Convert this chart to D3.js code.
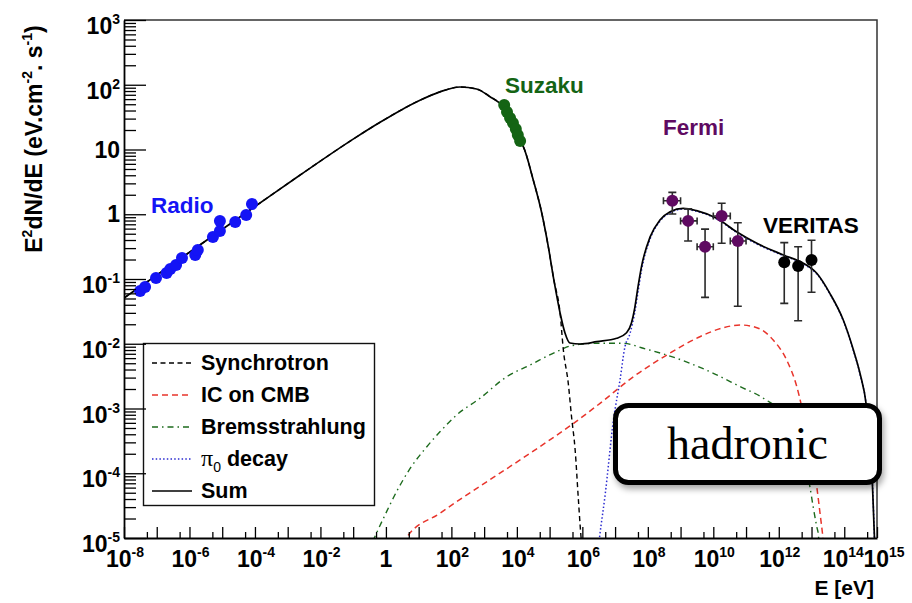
<!DOCTYPE html>
<html>
<head>
<meta charset="utf-8">
<script src="https://cdn.jsdelivr.net/npm/d3@7"></script>
<style>
  html, body { margin: 0; padding: 0; background: #fff; }
  svg { display: block; font-family: "Liberation Sans", Arial, Helvetica, sans-serif; }
</style>
</head>
<body>
<svg id="chart" width="912" height="603"></svg>
<script>
// ---- axis ticks (decade exponents) ----
const xTickExps  = d3.range(-8, 16);
const xLabelExps = [-8, -6, -4, -2, 0, 2, 4, 6, 8, 10, 12, 14, 15];
const yTickExps  = d3.range(-5, 4);
const yLabelExps = [-5, -4, -3, -2, -1, 0, 1, 2, 3];

// ---- measurements: [E (eV), E^2 dN/dE] ----
const radio = [
  [3.1e-8, 0.065], [4.4e-8, 0.075], [9.5e-8, 0.104], [2.0e-7, 0.124], [2.6e-7, 0.143],
  [3.9e-7, 0.164], [5.9e-7, 0.211], [1.5e-6, 0.235], [1.8e-6, 0.281], [5.2e-6, 0.446],
  [8.5e-6, 0.551], [8.5e-6, 0.787], [2.5e-5, 0.759], [5.4e-5, 0.973], [8.1e-5, 1.44]
];
const suzaku = [
  [4.1e3, 48.6], [5.0e3, 37.9], [6.2e3, 30.6], [7.6e3, 25.6], [9.3e3, 20.7], [1.07e4, 16.7], [1.26e4, 13.5]
];
// [E, flux, fluxLow, fluxHigh, Elow, Ehigh]
const fermi = [
  [5.6e8, 1.62, 1.01, 2.18, 3.0e8, 1.0e9],
  [1.7e9, 0.79, 0.386, 1.21, 1.0e9, 3.2e9],
  [5.6e9, 0.315, 0.052, 0.59, 3.2e9, 1.0e10],
  [1.8e10, 0.94, 0.356, 1.48, 1.0e10, 3.3e10],
  [5.6e10, 0.386, 0.038, 0.74, 3.3e10, 1.0e11]
];
// [E, flux, fluxLow, fluxHigh]
const veritas = [
  [1.47e12, 0.181, 0.042, 0.364],
  [3.9e12, 0.159, 0.0227, 0.315],
  [1.0e13, 0.196, 0.0624, 0.396]
];

// ---- model components: [log10 E, log10 E^2 dN/dE] ----
const synchrotron = [
  [-8, -1.293], [-6, -0.587], [-4, 0.119], [-2.62, 0.606], [-1.0, 1.16], [-0.18, 1.42],
  [0.43, 1.60], [1.04, 1.76], [1.65, 1.89], [2.26, 1.965], [2.77, 1.935], [3.18, 1.815],
  [3.58, 1.66], [3.80, 1.48], [4.10, 1.13], [4.20, 1.04], [4.50, 0.53], [4.76, 0.02],
  [4.96, -0.50], [5.13, -1.015], [5.32, -1.525], [5.42, -2.097], [5.57, -2.611],
  [5.67, -3.127], [5.78, -3.641], [5.88, -4.413], [5.95, -4.923], [5.98, -5.1]
];
const icCMB = [
  [0.55, -5.1], [0.635, -4.989], [1.65, -4.618], [4.40, -3.692], [5.62, -3.27], [6.54, -2.92],
  [7.56, -2.509], [8.58, -2.174], [9.59, -1.891], [10.31, -1.752], [10.82, -1.71],
  [11.33, -1.752], [11.83, -1.942], [12.24, -2.251], [12.55, -2.663], [12.70, -2.972],
  [12.93, -3.6], [13.16, -4.208], [13.26, -4.618], [13.34, -4.954], [13.37, -5.1]
];
const bremsstrahlung = [
  [-0.40, -5.05], [-0.08, -4.70], [0.33, -4.28], [0.735, -3.93], [1.25, -3.59], [1.65, -3.36],
  [2.16, -3.10], [2.87, -2.843], [3.69, -2.509], [4.40, -2.328], [5.32, -2.097],
  [5.62, -2.035], [6.44, -1.993], [7.25, -1.993], [7.86, -2.07], [8.58, -2.174], [9.29, -2.302],
  [10.0, -2.456], [10.82, -2.663], [11.53, -2.842], [12.3, -3.2], [12.7, -3.75], [12.95, -4.208],
  [13.05, -4.517], [13.16, -4.826], [13.21, -4.954], [13.23, -5.1]
];
const pionDecay = [
  [6.5, -5.1], [6.54, -4.93], [6.69, -4.36], [6.95, -3.18], [7.15, -2.56], [7.30, -2.05],
  [7.45, -1.85], [7.60, -1.52], [7.70, -1.20], [7.81, -0.86], [8.07, -0.38], [8.37, -0.11],
  [8.68, 0.025], [9.08, 0.08], [9.49, 0.045], [10.10, -0.072], [10.71, -0.28], [11.33, -0.46],
  [12.14, -0.64], [12.75, -0.767], [13.16, -0.922], [13.56, -1.23], [13.97, -1.643],
  [14.28, -2.107], [14.48, -2.466], [14.68, -2.98], [14.84, -3.91], [14.93, -5.1]
];
const sumModel = [
  [-8, -1.293], [-6, -0.587], [-4, 0.119], [-2.62, 0.606], [-1.0, 1.16], [-0.18, 1.42],
  [0.43, 1.60], [1.04, 1.76], [1.65, 1.89], [2.26, 1.965], [2.77, 1.935], [3.18, 1.815],
  [3.58, 1.66], [3.80, 1.48], [4.10, 1.13], [4.20, 1.04], [4.50, 0.53], [4.76, 0.02],
  [4.96, -0.50], [5.13, -1.015], [5.32, -1.525], [5.47, -1.834], [5.62, -1.988], [5.93, -2.004],
  [6.44, -1.968], [7.05, -1.916], [7.35, -1.83], [7.50, -1.68], [7.60, -1.45], [7.70, -1.12],
  [7.81, -0.80], [8.07, -0.35], [8.37, -0.09], [8.68, 0.04], [9.08, 0.092], [9.49, 0.055],
  [10.10, -0.063], [10.71, -0.27], [11.33, -0.449], [12.14, -0.629], [12.75, -0.757],
  [13.16, -0.912], [13.56, -1.221], [13.97, -1.633], [14.28, -2.097], [14.48, -2.456],
  [14.68, -2.972], [14.84, -3.9], [14.93, -5.1]
];

const legendLabels = ["Synchrotron", "IC on CMB", "Bremsstrahlung", "π0 decay", "Sum"];

// ---- drawing ----
const svg = d3.select("#chart");
const plot = { left: 124, right: 877, top: 20, bottom: 538 };

const x = d3.scaleLog().domain([1e-8, 1e15]).range([plot.left, plot.right]);
const y = d3.scaleLog().domain([1e-5, 1e3]).range([plot.bottom, plot.top]);

const defs = svg.append("defs");
defs.append("clipPath").attr("id", "plotClip")
  .append("rect")
  .attr("x", plot.left).attr("y", plot.top)
  .attr("width", plot.right - plot.left).attr("height", plot.bottom - plot.top);
const shadow = defs.append("filter").attr("id", "boxShadow")
  .attr("x", "-10%").attr("y", "-20%").attr("width", "130%").attr("height", "160%");
shadow.append("feDropShadow")
  .attr("dx", 2).attr("dy", 4).attr("stdDeviation", 3)
  .attr("flood-color", "#000").attr("flood-opacity", 0.35);

svg.append("rect").attr("width", 912).attr("height", 603).attr("fill", "#fff");

// frame (top and right)
svg.append("path")
  .attr("d", `M${plot.left},${plot.top}H${plot.right}V${plot.bottom}`)
  .attr("fill", "none").attr("stroke", "#333").attr("stroke-width", 1.5);

// model curves
const styles = {
  synch: { color: "#000000", dash: "5,3.5", width: 1.4 },
  ic:    { color: "#e8342b", dash: "6,4", width: 1.5 },
  brems: { color: "#1d6b1d", dash: "6,4,1.5,4", width: 1.4 },
  pion:  { color: "#2a2ad0", dash: "1.5,2.2", width: 1.5 },
  sum:   { color: "#000000", dash: null, width: 1.7 }
};
const series = [
  { data: bremsstrahlung, style: styles.brems },
  { data: icCMB, style: styles.ic },
  { data: pionDecay, style: styles.pion },
  { data: synchrotron, style: styles.synch },
  { data: sumModel, style: styles.sum }
];
const line = d3.line()
  .x(d => x(Math.pow(10, d[0])))
  .y(d => y(Math.pow(10, d[1])))
  .curve(d3.curveMonotoneX);

const curves = svg.append("g").attr("clip-path", "url(#plotClip)");
curves.selectAll("path").data(series).join("path")
  .attr("d", s => line(s.data))
  .attr("fill", "none")
  .attr("stroke", s => s.style.color)
  .attr("stroke-width", s => s.style.width)
  .attr("stroke-dasharray", s => s.style.dash);

// measured points
const pts = svg.append("g");
pts.selectAll("circle.radio").data(radio).join("circle").attr("class", "radio")
  .attr("cx", d => x(d[0])).attr("cy", d => y(d[1])).attr("r", 6).attr("fill", "#1414f5");
pts.selectAll("circle.suzaku").data(suzaku).join("circle").attr("class", "suzaku")
  .attr("cx", d => x(d[0])).attr("cy", d => y(d[1])).attr("r", 6).attr("fill", "#146414");

const errColor = "#2a2a2a";
const fermiG = pts.append("g").attr("stroke", errColor).attr("stroke-width", 1.6).attr("fill", "none");
fermi.forEach(d => {
  const cx = x(d[0]), cy = y(d[1]);
  const x0 = x(d[4]), x1 = x(d[5]), yl = y(d[2]), yh = y(d[3]);
  fermiG.append("path").attr("d",
    `M${x0},${cy}H${x1}M${x0},${cy - 3.5}V${cy + 3.5}M${x1},${cy - 3.5}V${cy + 3.5}` +
    `M${cx},${yh}V${yl}M${cx - 4},${yh}H${cx + 4}M${cx - 4},${yl}H${cx + 4}`);
});
pts.selectAll("circle.fermi").data(fermi).join("circle").attr("class", "fermi")
  .attr("cx", d => x(d[0])).attr("cy", d => y(d[1])).attr("r", 6).attr("fill", "#5f0a61");

const verG = pts.append("g").attr("stroke", errColor).attr("stroke-width", 1.6).attr("fill", "none");
veritas.forEach(d => {
  const cx = x(d[0]), yl = y(d[2]), yh = y(d[3]);
  verG.append("path").attr("d",
    `M${cx},${yh}V${yl}M${cx - 4},${yh}H${cx + 4}M${cx - 4},${yl}H${cx + 4}`);
});
pts.selectAll("circle.veritas").data(veritas).join("circle").attr("class", "veritas")
  .attr("cx", d => x(d[0])).attr("cy", d => y(d[1])).attr("r", 6).attr("fill", "#000");

// instrument labels
const tags = [
  { text: "Radio",   x: 151, y: 213, color: "#1414f5" },
  { text: "Suzaku",  x: 505, y: 93,  color: "#146414" },
  { text: "Fermi",   x: 663, y: 135, color: "#5f0a61" },
  { text: "VERITAS", x: 763, y: 233, color: "#000" }
];
svg.selectAll("text.tag").data(tags).join("text").attr("class", "tag")
  .attr("x", d => d.x).attr("y", d => d.y)
  .attr("fill", d => d.color)
  .attr("font-size", 22.5).attr("font-weight", "bold")
  .text(d => d.text);

// legend
const legend = svg.append("g");
legend.append("rect")
  .attr("x", 143.5).attr("y", 343.5).attr("width", 231).attr("height", 162)
  .attr("fill", "#fff").attr("stroke", "#111").attr("stroke-width", 1.4);
const legendStyles = [styles.synch, styles.ic, styles.brems, styles.pion, styles.sum];
legendLabels.forEach((lab, i) => {
  const base = 370 + i * 32;
  const st = legendStyles[i];
  legend.append("line")
    .attr("x1", 152).attr("x2", 192).attr("y1", base - 7).attr("y2", base - 7)
    .attr("stroke", st.color).attr("stroke-width", st.width)
    .attr("stroke-dasharray", st.dash);
  const t = legend.append("text").attr("x", 201).attr("y", base)
    .attr("font-size", 21.5).attr("font-weight", "bold").attr("fill", "#000");
  if (lab.startsWith("π")) {
    t.append("tspan").attr("font-family", "'Liberation Serif', serif")
      .attr("font-weight", "normal").attr("font-size", 24).text("π");
    t.append("tspan").attr("font-size", 14).attr("dy", 6).attr("font-weight", "normal").text("0");
    t.append("tspan").attr("dy", -6).text(lab.slice(2));
  } else {
    t.text(lab);
  }
});

// axes: decade ticks and minor ticks
const xAxisG = svg.append("g").attr("transform", `translate(0,${plot.bottom})`);
xAxisG.call(d3.axisBottom(x)
  .tickValues(xTickExps.map(e => Math.pow(10, e)))
  .tickSizeInner(-11).tickSizeOuter(0).tickFormat(""));
const xMinor = svg.append("g").attr("transform", `translate(0,${plot.bottom})`);
xMinor.call(d3.axisBottom(x)
  .tickValues(xTickExps.slice(1).map(e => 5 * Math.pow(10, e - 1)))
  .tickSizeInner(-6).tickSizeOuter(0).tickFormat(""));
xMinor.select(".domain").remove();

const yAxisG = svg.append("g").attr("transform", `translate(${plot.left},0)`);
yAxisG.call(d3.axisLeft(y)
  .tickValues(yTickExps.map(e => Math.pow(10, e)))
  .tickSizeInner(-22).tickSizeOuter(0).tickFormat(""));
const yMinorVals = [];
yTickExps.slice(0, -1).forEach(e => { for (let m = 2; m <= 9; m++) yMinorVals.push(m * Math.pow(10, e)); });
const yMinor = svg.append("g").attr("transform", `translate(${plot.left},0)`);
yMinor.call(d3.axisLeft(y).tickValues(yMinorVals)
  .tickSizeInner(-12).tickSizeOuter(0).tickFormat(""));
yMinor.select(".domain").remove();

svg.selectAll(".domain").attr("stroke", "#000").attr("stroke-width", 1.8);
svg.selectAll(".tick line").attr("stroke", "#000").attr("stroke-width", 1.3);

function powerLabel(sel, e) {
  if (e === 0) { sel.append("tspan").text("1"); return; }
  if (e === 1) { sel.append("tspan").text("10"); return; }
  sel.append("tspan").text("10");
  sel.append("tspan").attr("font-size", 14).attr("dy", -10).text(String(e));
}

// the last label is nudged right so it clears its neighbour
svg.append("g").selectAll("text").data(xLabelExps).join("text")
  .attr("x", e => x(Math.pow(10, e)) + (e === 15 ? 7 : e === 14 ? -1 : e === 0 ? 0 : 1))
  .attr("y", 567)
  .attr("text-anchor", "middle")
  .attr("font-size", 23).attr("font-weight", "bold")
  .each(function (e) { powerLabel(d3.select(this), e); });

svg.append("g").selectAll("text").data(yLabelExps).join("text")
  .attr("x", 120)
  .attr("y", e => y(Math.pow(10, e)) + (e === 0 || e === 1 ? 8 : 14))
  .attr("text-anchor", "end")
  .attr("font-size", 23).attr("font-weight", "bold")
  .each(function (e) { powerLabel(d3.select(this), e); });

// axis titles
svg.append("text")
  .attr("x", 874).attr("y", 595).attr("text-anchor", "end")
  .attr("font-size", 21).attr("font-weight", "bold").text("E [eV]");

const yTitle = svg.append("text")
  .attr("transform", "translate(42,139) rotate(-90)")
  .attr("text-anchor", "middle")
  .attr("font-size", 23).attr("font-weight", "bold");
yTitle.append("tspan").text("E");
yTitle.append("tspan").attr("font-size", 14).attr("dy", -10).text("2");
yTitle.append("tspan").attr("dy", 10).text("dN/dE (eV.cm");
yTitle.append("tspan").attr("font-size", 14).attr("dy", -10).text("-2");
yTitle.append("tspan").attr("dy", 10).text(". s");
yTitle.append("tspan").attr("font-size", 14).attr("dy", -10).text("-1");
yTitle.append("tspan").attr("dy", 10).text(")");

// scenario badge
const badge = svg.append("g");
badge.append("rect")
  .attr("x", 615.5).attr("y", 405.5).attr("width", 264).attr("height", 77)
  .attr("rx", 13).attr("ry", 13)
  .attr("fill", "#fff").attr("stroke", "#000").attr("stroke-width", 5)
  .attr("filter", "url(#boxShadow)");
badge.append("text")
  .attr("x", 747.5).attr("y", 459).attr("text-anchor", "middle")
  .attr("font-family", "'Liberation Serif', 'Times New Roman', serif")
  .attr("font-size", 46).attr("fill", "#000")
  .text("hadronic");
</script>
</body>
</html>
